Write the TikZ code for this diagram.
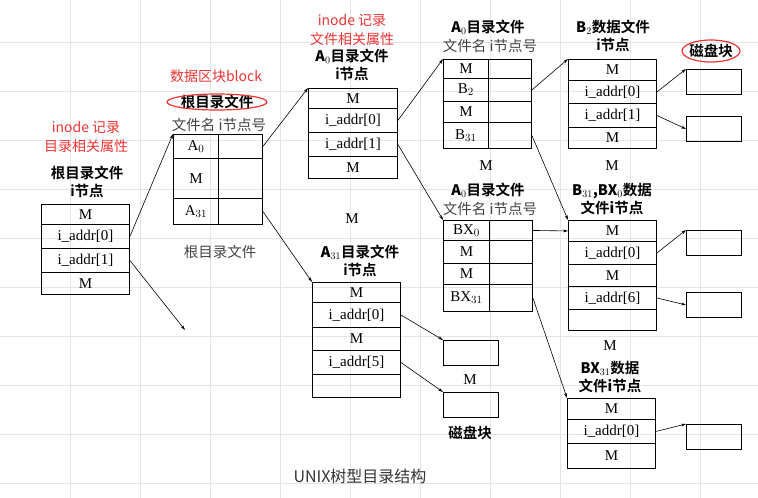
\documentclass[tikz,border=0pt]{standalone}
\usepackage{fontspec}
\setmainfont{Liberation Serif}
\newfontfamily\cjk{Noto Sans CJK SC}
\newfontfamily\cjkb{Noto Sans CJK SC Bold}
\newfontfamily\redsans{Noto Sans CJK SC}
\usetikzlibrary{arrows.meta}
\definecolor{gridgray}{HTML}{E4E4E4}
\definecolor{notered}{HTML}{EE3333}
\definecolor{capgray}{HTML}{444444}

% one table cell: name, left, top, width, height, text
\newcommand{\cell}[6]{\node[cell, anchor=north west, minimum width=#4pt, minimum height=#5pt] (#1) at (#2,#3) {#6};}

\begin{document}
\begin{tikzpicture}[x=1pt, y=-1pt,
    cell/.style={draw, line width=0.9pt, inner sep=0pt, font=\fontsize{15}{15}\selectfont},
    blk/.style={draw, line width=0.9pt, minimum width=55pt, minimum height=25pt, anchor=north west, inner sep=0pt},
    title/.style={font=\fontsize{14.5}{18}\selectfont\cjkb, align=center},
    head/.style={font=\fontsize{14.5}{14}\selectfont\cjk, text=capgray},
    note/.style={font=\fontsize{14}{19}\selectfont\redsans, text=notered, align=center},
    dots/.style={font=\fontsize{15}{15}\selectfont},
    ptr/.style={-{Stealth[length=5pt, width=3pt]}, line width=0.6pt}
  ]
  \useasboundingbox (0,0) rectangle (758,498);
  % background grid
  \foreach \gx in {70,140,...,750} \draw[gridgray] (\gx,0) -- (\gx,498);
  \foreach \gy in {42,91,...,498} \draw[gridgray] (0,\gy) -- (758,\gy);

  % root inode
  \node[note] (n1) at (86,137) {inode 记录\\目录相关属性};
  \node[title] (t1) at (87,182) {根目录文件\\i节点};
  \cell{r1}{41}{204}{88}{20}{M}
  \cell{r2}{41}{224}{88}{24}{i\_addr[0]}
  \cell{r3}{41}{248}{88}{24}{i\_addr[1]}
  \cell{r4}{41}{272}{88}{22}{M}
  \coordinate (rfree) at (185,330);

  % root directory block
  \node[note] (n2) at (216,76) {数据区块block};
  \node[title] (t2) at (217,102) {根目录文件};
  \draw[notered, line width=1.2pt] (t2) ellipse (50pt and 8pt);
  \node[head] (h2) at (219,125) {文件名 i节点号};
  \cell{d1}{173}{134}{45}{24}{A$_0$}
  \cell{d1v}{218}{134}{44}{24}{}
  \cell{d2}{173}{158}{45}{40}{M}
  \cell{d2v}{218}{158}{44}{40}{}
  \cell{d3}{173}{198}{45}{26}{A$_{31}$}
  \cell{d3v}{218}{198}{44}{26}{}
  \node[head] (c2) at (220,252) {根目录文件};

  % A0 inode
  \node[note] (n3) at (352,30) {inode 记录\\文件相关属性};
  \node[title] (t3) at (352,65) {{\bfseries A$_0$}目录文件\\i节点};
  \cell{a1}{308}{88}{89}{20}{M}
  \cell{a2}{308}{108}{89}{24}{i\_addr[0]}
  \cell{a3}{308}{132}{89}{24}{i\_addr[1]}
  \cell{a4}{308}{156}{89}{22}{M}
  \node[dots] (m1) at (352,219) {M};

  % A31 inode
  \node[title] (t4) at (360,261) {{\bfseries A$_{31}$}目录文件\\i节点};
  \cell{b1}{312}{282}{88}{20}{M}
  \cell{b2}{312}{302}{88}{25}{i\_addr[0]}
  \cell{b3}{312}{327}{88}{23}{M}
  \cell{b4}{312}{350}{88}{24}{i\_addr[5]}
  \cell{b5}{312}{374}{88}{23}{}
  \node[blk] (k1) at (443,340) {};
  \node[dots] (m2) at (470,380) {M};
  \node[blk] (k2) at (443,392) {};
  \node[title] (c3) at (470,433) {磁盘块};

  % A0 directory blocks
  \node[title] (t5) at (488,27) {{\bfseries A$_0$}目录文件};
  \node[head] (h5) at (490,46) {文件名 i节点号};
  \cell{e1}{443}{59}{45}{19}{M}
  \cell{e1v}{488}{59}{43}{19}{}
  \cell{e2}{443}{78}{45}{23}{B$_2$}
  \cell{e2v}{488}{78}{43}{23}{}
  \cell{e3}{443}{101}{45}{21}{M}
  \cell{e3v}{488}{101}{43}{21}{}
  \cell{e4}{443}{122}{45}{26}{B$_{31}$}
  \cell{e4v}{488}{122}{43}{26}{}
  \node[dots] (m3) at (486,166) {M};
  \node[title] (t6) at (488,190) {{\bfseries A$_0$}目录文件};
  \node[head] (h6) at (490,209) {文件名 i节点号};
  \cell{f1}{443}{220}{46}{20}{BX$_0$}
  \cell{f1v}{489}{220}{43}{20}{}
  \cell{f2}{443}{240}{46}{23}{M}
  \cell{f2v}{489}{240}{43}{23}{}
  \cell{f3}{443}{263}{46}{21}{M}
  \cell{f3v}{489}{263}{43}{21}{}
  \cell{f4}{443}{284}{46}{27}{BX$_{31}$}
  \cell{f4v}{489}{284}{43}{27}{}

  % B2 inode
  \node[title] (t7) at (613,36) {{\bfseries B$_2$}数据文件\\i节点};
  \node[title] (c7) at (711,51) {磁盘块};
  \draw[notered, line width=1.2pt] (c7) ellipse (29pt and 11pt);
  \cell{g1}{568}{59}{88}{21}{M}
  \cell{g2}{568}{80}{88}{23}{i\_addr[0]}
  \cell{g3}{568}{103}{88}{24}{i\_addr[1]}
  \cell{g4}{568}{127}{88}{21}{M}
  \node[blk] (k3) at (686,69) {};
  \node[blk] (k4) at (686,116) {};
  \node[dots] (m4) at (612,166) {M};

  % B31, BX0 inode
  \node[title] (t8) at (612,199) {{\bfseries B$_{31}$,BX$_0$}数据\\文件{\bfseries i}节点};
  \cell{p1}{568}{220}{88}{21}{M}
  \cell{p2}{568}{241}{88}{23}{i\_addr[0]}
  \cell{p3}{568}{264}{88}{22}{M}
  \cell{p4}{568}{286}{88}{23}{i\_addr[6]}
  \cell{p5}{568}{309}{88}{21}{}
  \node[blk] (k5) at (686,230) {};
  \node[blk] (k6) at (686,292) {};
  \node[dots] (m5) at (610,346) {M};

  % BX31 inode
  \node[title] (t9) at (610,377) {{\bfseries BX$_{31}$}数据\\文件{\bfseries i}节点};
  \cell{q1}{567}{398}{88}{21}{M}
  \cell{q2}{567}{419}{88}{24}{i\_addr[0]}
  \cell{q3}{567}{443}{88}{25}{M}
  \node[blk] (k7) at (686,424) {};

  \node[head, text=black!80, font=\fontsize{16}{16}\selectfont\cjk] (cap) at (360,476) {UNIX树型目录结构};

  % pointers
  \draw[ptr] (r2.east) -- (d1.north west);
  \draw[ptr] (r3.east) -- (rfree);
  \draw[ptr] (d1v.east) -- (a1.north west);
  \draw[ptr] (d3v.east) -- (b1.north west);
  \draw[ptr] (b2.east) -- (k1.north west);
  \draw[ptr] (b4.east) -- (k2.north west);
  \draw[ptr] (a2.east) -- (e1.north west);
  \draw[ptr] (a3.east) -- (f1.north west);
  \draw[ptr] (e2v.east) -- (g1.north west);
  \draw[ptr] (e4v.east) -- (p1.north west);
  \draw[ptr] (f1v.east) -- (p1.west);
  \draw[ptr] (f4v.east) -- (q1.north west);
  \draw[ptr] (g2.east) -- (k3.north west);
  \draw[ptr] (g3.east) -- (k4.west);
  \draw[ptr] (p2.east) -- (k5.north west);
  \draw[ptr] (p4.east) -- (k6.west);
  \draw[ptr] (q2.east) -- (k7.north west);
\end{tikzpicture}
\end{document}
